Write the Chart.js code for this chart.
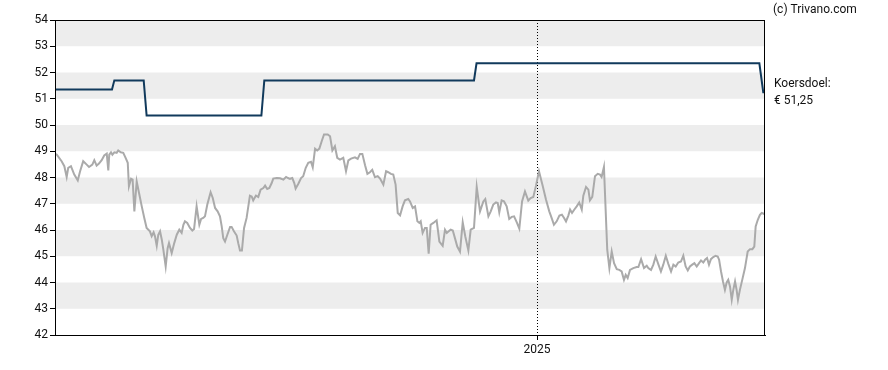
<!DOCTYPE html>
<html>
<head>
<meta charset="utf-8">
<script src="https://cdn.jsdelivr.net/npm/chart.js@4/dist/chart.umd.min.js"></script>
<style>
  body { margin: 0; background: #fff; }
</style>
</head>
<body>
<canvas id="chart" width="888" height="370"></canvas>
<script>
// days since start of the window (start ~ end of April 2024)
const priceDays = [0, 0.9, 3.4, 4.8, 6.0, 6.8, 8.2, 9.9, 11.7, 12.9, 14.5, 16.3, 17.5, 19.2, 20.2, 21.4, 22.6, 24.0, 25.3, 26.6,
  27.4, 27.9, 28.8, 29.5, 30.5, 31.7, 32.5, 33.8, 35.1, 36.3, 37.4, 38.0, 39.1, 39.9, 40.8, 42.0, 43.2, 44.6, 45.9, 47.1,
  48.8, 49.7, 50.7, 51.4, 52.3, 53.1, 54.0, 54.9, 55.7, 56.9, 57.9, 58.6, 60.0, 61.3, 62.6, 63.9, 65.1, 66.0, 66.8, 68.0,
  69.4, 70.6, 71.5, 72.8, 74.2, 75.1, 76.2, 77.1, 78.3, 80.0, 81.1, 82.3, 83.6, 84.8, 85.7, 86.5, 87.4, 88.6, 90.0, 90.8,
  92.0, 93.4, 94.2, 95.1, 96.1, 97.2, 98.5, 100.2, 101.1, 101.9, 103.3, 104.5, 105.7, 107.1, 108.0, 109.1, 110.2, 111.4, 112.2, 114.0,
  115.7, 117.4, 118.8, 119.8, 120.8, 122.0, 123.0, 123.7, 125.1, 126.5, 127.6, 128.9, 130.2, 131.6, 132.5, 133.7, 134.8, 135.9, 137.1, 138.3,
  140.2, 141.4, 142.6, 143.9, 145.1, 146.5, 148.2, 149.6, 150.8, 152.2, 154.2, 155.6, 156.8, 158.0, 159.4, 160.6, 161.9, 163.1, 164.5, 165.9,
  167.1, 168.8, 170.2, 171.3, 172.7, 173.9, 175.1, 176.2, 177.4, 178.7, 179.9, 181.6, 182.5, 183.9, 185.1, 186.3, 187.3, 188.0, 189.0, 190.2,
  191.1, 192.1, 193.1, 194.5, 196.2, 197.6, 199.3, 200.5, 201.4, 202.4, 203.4, 204.5, 205.6, 206.8, 208.2, 209.6, 210.9, 212.5, 213.7, 215.4,
  216.8, 218.5, 220.2, 221.2, 222.8, 224.0, 225.3, 226.7, 227.6, 228.4, 229.6, 230.8, 232.2, 233.5, 234.8, 236.0, 237.4, 238.7, 240.1, 241.6,
  243.3, 244.5, 245.9, 247.3, 248.8, 250.7, 252.4, 254.1, 255.3, 256.5, 257.9, 259.3, 260.6, 261.7, 262.7, 263.9, 264.8, 265.8, 267.0, 268.2,
  269.5, 270.8, 271.6, 273.0, 274.2, 275.0, 276.2, 277.6, 279.0, 280.2, 281.0, 282.2, 283.9, 285.0, 286.2, 287.4, 288.8, 290.1, 291.3, 292.5,
  293.4, 294.4, 295.6, 297.3, 299.0, 299.9, 301.3, 302.8, 304.2, 305.0, 306.4, 307.6, 308.8, 310.1, 311.5, 312.7, 314.0, 315.3, 316.7, 317.9,
  319.1, 320.4, 321.8, 323.0, 324.2, 325.3, 326.4, 327.6, 328.7, 329.9, 331.1, 332.1, 333.3, 334.2, 335.2, 336.2, 337.2, 338.4, 339.6, 340.7,
  341.4, 342.4, 343.4, 344.4, 345.3, 346.1, 347.0, 347.9, 348.7, 349.6, 350.4, 351.1, 352.1, 353.3, 354.7, 356.1, 357.3, 358.5, 359.5, 360.2,
  361.3, 362.4, 363.3, 364.3, 365.0];

const prices = [48.90, 48.87, 48.62, 48.43, 48.02, 48.37, 48.43, 48.11, 47.89, 48.24, 48.62, 48.49, 48.40, 48.49, 48.66, 48.45, 48.53, 48.66, 48.84, 48.91,
  48.27, 48.87, 48.96, 48.87, 48.96, 48.94, 49.03, 48.96, 48.94, 48.75, 48.56, 47.66, 47.95, 47.92, 46.71, 47.85, 47.41, 46.90, 46.46, 46.08,
  45.95, 45.76, 45.91, 45.76, 45.40, 45.82, 45.95, 45.63, 45.25, 44.61, 45.31, 45.50, 45.12, 45.50, 45.82, 46.01, 45.89, 46.20, 46.33, 46.27,
  46.08, 45.98, 46.04, 46.90, 46.20, 46.42, 46.46, 46.52, 46.97, 47.44, 47.22, 46.84, 46.71, 46.52, 46.14, 45.69, 45.56, 45.82, 46.11, 46.11,
  45.95, 45.79, 45.50, 45.22, 45.22, 46.08, 46.46, 47.31, 47.28, 47.13, 47.31, 47.26, 47.54, 47.60, 47.69, 47.56, 47.60, 47.79, 47.96, 47.98,
  47.97, 47.92, 48.02, 47.98, 47.95, 47.98, 47.79, 47.58, 47.76, 47.98, 48.05, 48.37, 48.56, 48.60, 48.39, 49.10, 49.03, 49.10, 49.38, 49.64,
  49.64, 49.57, 49.03, 49.19, 48.75, 48.68, 48.75, 48.24, 48.65, 48.72, 48.77, 48.71, 48.90, 48.90, 48.47, 48.14, 48.20, 48.29, 48.01, 48.05,
  47.96, 47.73, 48.24, 48.20, 48.14, 48.11, 47.73, 46.65, 46.56, 46.90, 47.13, 47.18, 47.09, 46.84, 46.90, 46.33, 46.27, 46.33, 45.89, 46.08,
  46.08, 45.10, 46.20, 46.27, 46.37, 45.56, 45.40, 46.01, 45.89, 45.95, 46.01, 45.98, 45.69, 45.37, 45.18, 46.29, 45.76, 45.22, 46.01, 46.08,
  47.64, 46.71, 47.09, 47.18, 46.52, 46.71, 46.97, 47.05, 47.03, 46.67, 47.13, 47.09, 46.90, 46.42, 46.50, 46.52, 46.29, 46.05, 47.09, 47.47,
  47.12, 47.22, 47.26, 47.70, 48.24, 47.69, 47.16, 46.71, 46.46, 46.20, 46.33, 46.55, 46.58, 46.46, 46.33, 46.55, 46.78, 46.65, 46.78, 46.90,
  47.05, 46.78, 47.31, 47.64, 47.54, 47.13, 47.26, 48.05, 48.14, 48.11, 48.02, 48.40, 45.25, 44.55, 45.18, 44.74, 44.51, 44.48, 44.42, 44.10,
  44.29, 44.17, 44.48, 44.55, 44.59, 44.59, 44.89, 44.55, 44.64, 44.55, 44.48, 44.68, 44.99, 44.71, 44.42, 44.68, 45.02, 44.71, 44.42, 44.68,
  44.61, 44.76, 44.80, 45.02, 44.61, 44.46, 44.61, 44.68, 44.74, 44.61, 44.74, 44.84, 44.76, 44.87, 44.93, 44.68, 44.89, 44.97, 45.02, 44.99,
  44.87, 44.42, 44.04, 43.72, 44.00, 44.10, 43.85, 43.34, 43.72, 44.04, 43.72, 43.34, 43.72, 44.10, 44.55, 45.18, 45.27, 45.27, 45.37, 46.14,
  46.39, 46.58, 46.65, 46.62, 46.58];

// koersdoel (price target) steps
const targetDays = [0, 29.3, 30.5, 45.6, 47.1, 106.1, 107.6, 215.4, 216.7, 362.1, 364.1, 365];
const targets = [51.35, 51.35, 51.70, 51.70, 50.36, 50.36, 51.70, 51.70, 52.35, 52.35, 51.25, 51.25];

const yearTicks = [247.8];
const yearLabels = ["2025"];

const lastTarget = "51,25";

const FONT = "Roboto, 'Liberation Sans', Arial, sans-serif";

const toPoints = (xs, ys) => xs.map((x, i) => ({ x: x, y: ys[i] }));

const bandsPlugin = {
  id: "bands",
  beforeDatasetsDraw(chart) {
    const { ctx, chartArea, scales } = chart;
    const y = scales.y;
    ctx.save();
    ctx.fillStyle = "#ededed";
    for (let v = 43; v < 54; v += 2) {
      const top = y.getPixelForValue(v + 1);
      const bottom = y.getPixelForValue(v);
      ctx.fillRect(chartArea.left, top, chartArea.right - chartArea.left, bottom - top);
    }
    // dotted year separator
    ctx.strokeStyle = "#000";
    ctx.lineWidth = 1;
    ctx.setLineDash([1, 2]);
    yearTicks.forEach((d) => {
      const px = Math.round(scales.x.getPixelForValue(d)) + 0.5;
      ctx.beginPath();
      ctx.moveTo(px, chartArea.top);
      ctx.lineTo(px, chartArea.bottom);
      ctx.stroke();
    });
    ctx.restore();
  },
  afterDraw(chart) {
    const { ctx, chartArea, scales } = chart;
    ctx.save();
    ctx.strokeStyle = "#000";
    ctx.lineWidth = 1;
    ctx.strokeRect(chartArea.left + 0.5, chartArea.top + 0.5,
      chartArea.right - chartArea.left - 1, chartArea.bottom - chartArea.top);
    ctx.fillStyle = "#111";
    ctx.font = "12px " + FONT;
    ctx.textAlign = "left";
    ctx.textBaseline = "alphabetic";
    ctx.fillText("(c) Trivano.com", chartArea.right + 8, 13);
    const ty = scales.y.getPixelForValue(targets[targets.length - 1]);
    ctx.fillText("Koersdoel:", chartArea.right + 9, ty - 5);
    ctx.fillText("\u20AC " + lastTarget, chartArea.right + 9, ty + 12);
    ctx.restore();
  },
};

new Chart(document.getElementById("chart"), {
  type: "scatter",
  data: {
    datasets: [
      {
        label: "Koers",
        data: toPoints(priceDays, prices),
        showLine: true,
        borderColor: "#aaaaaa",
        borderWidth: 2,
        pointRadius: 0,
        tension: 0,
      },
      {
        label: "Koersdoel",
        data: toPoints(targetDays, targets),
        showLine: true,
        borderColor: "#113a5c",
        borderWidth: 2,
        pointRadius: 0,
        tension: 0,
      },
    ],
  },
  options: {
    responsive: false,
    animation: false,
    devicePixelRatio: 1,
    layout: { padding: { top: 20, right: 123, left: 0, bottom: 0 } },
    plugins: {
      legend: { display: false },
      tooltip: { enabled: false },
    },
    scales: {
      x: {
        type: "linear",
        min: 0,
        max: 365,
        afterBuildTicks: (scale) => {
          scale.ticks = yearTicks.map((v) => ({ value: v }));
        },
        afterFit: (scale) => {
          scale.height = 35;
        },
        ticks: {
          autoSkip: false,
          maxRotation: 0,
          padding: 3,
          color: "#111",
          font: { family: FONT, size: 12 },
          callback: (v) => {
            const i = yearTicks.indexOf(v);
            return i >= 0 ? yearLabels[i] : "";
          },
        },
        grid: { drawOnChartArea: false, color: "#000", tickLength: 5 },
        border: { color: "#000" },
      },
      y: {
        min: 42,
        max: 54,
        afterFit: (scale) => {
          scale.width = 55;
        },
        ticks: {
          stepSize: 1,
          padding: 2,
          color: "#111",
          font: { family: FONT, size: 12 },
        },
        grid: { drawOnChartArea: false, color: "#000", tickLength: 5 },
        border: { color: "#000" },
      },
    },
  },
  plugins: [bandsPlugin],
});
</script>
</body>
</html>
